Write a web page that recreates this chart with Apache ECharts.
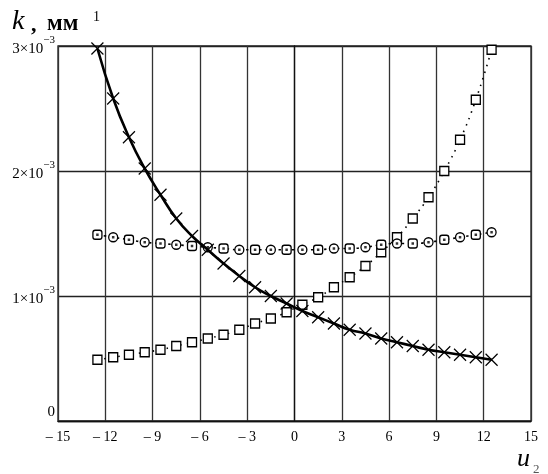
<!DOCTYPE html>
<html><head><meta charset="utf-8">
<script src="https://cdn.jsdelivr.net/npm/echarts@6/dist/echarts.min.js"></script>
<style>html,body{margin:0;padding:0;background:#fff}#c{width:548px;height:474px}</style>
</head><body><div id="c"></div>
<script>
// x values (u2)
var xVals = [-12.5,-11.5,-10.5,-9.5,-8.5,-7.5,-6.5,-5.5,-4.5,-3.5,-2.5,-1.5,-0.5,0.5,1.5,2.5,3.5,4.5,5.5,6.5,7.5,8.5,9.5,10.5,11.5,12.5];
// k values in units of 10^-3 mm^-1
var crossVals = [2.98,2.58,2.27,2.02,1.81,1.62,1.48,1.37,1.26,1.16,1.07,1.00,0.94,0.88,0.83,0.78,0.73,0.70,0.66,0.63,0.60,0.57,0.55,0.53,0.51,0.49];
var squareVals = [0.49,0.51,0.53,0.55,0.57,0.60,0.63,0.66,0.69,0.73,0.78,0.82,0.87,0.93,0.99,1.07,1.15,1.24,1.35,1.47,1.62,1.79,2.00,2.25,2.57,2.97];
var circleVals = [1.49,1.47,1.45,1.43,1.42,1.41,1.40,1.39,1.38,1.37,1.37,1.37,1.37,1.37,1.37,1.38,1.38,1.39,1.41,1.42,1.42,1.43,1.45,1.47,1.49,1.51];
var xTicks = [-15,-12,-9,-6,-3,0,3,6,9,12,15];
var yTicks = [0,1,2,3];

function pairs(v){ return xVals.map(function(x,i){ return [x, v[i]]; }); }
var serif = 'Liberation Serif';
function txt(t, x, y, size, opts){
  opts = opts || {};
  return {type:'text', x:x, y:y, style:{text:t, fill:opts.fill||'#000', textVerticalAlign:'bottom',
    font:(opts.style||'normal')+' '+(opts.weight||'normal')+' '+size+'px "'+serif+'"'}};
}
var chart = echarts.init(document.getElementById('c'));
chart.setOption({
  animation:false,
  backgroundColor:'#fff',
  grid:{left:58,right:17,top:46,bottom:53,show:true,borderColor:'#222',borderWidth:1.3},
  xAxis:{type:'value',min:xTicks[0],max:xTicks[xTicks.length-1],interval:3,
    axisLine:{show:true,lineStyle:{color:'#111',width:1.3}},axisTick:{show:false},
    splitLine:{show:true,lineStyle:{color:'#333',width:1.3}},
    axisLabel:{margin:9,color:'#000',fontFamily:serif,fontSize:14,
      formatter:function(v){ return v<0 ? '\u2013 '+Math.abs(v) : String(v); }}},
  yAxis:{type:'value',min:yTicks[0],max:yTicks[yTicks.length-1],interval:1,
    axisLine:{show:true,lineStyle:{color:'#111',width:1.3}},axisTick:{show:false},
    splitLine:{show:true,lineStyle:{color:'#222',width:1.3}},
    axisLabel:{margin:3,color:'#000',
      formatter:function(v){ return v===0 ? '{z|0}' : '{b|'+v+'\u00d710}{s|\u22123}'; },
      rich:{
        z:{fontFamily:serif,fontSize:15,color:'#000',padding:[0,0,18,0]},
        b:{fontFamily:serif,fontSize:15,color:'#000',lineHeight:22,verticalAlign:'bottom'},
        s:{fontFamily:serif,fontSize:11,color:'#000',lineHeight:22,verticalAlign:'top'}
      }}},
  graphic:[
    txt('k', 12, 36, 28, {style:'italic'}),
    txt(',', 31, 36, 22, {weight:'bold'}),
    txt('мм', 47, 36, 23, {weight:'bold'}),
    txt('1', 93, 24, 14),
    txt('u', 517, 472, 26, {style:'italic'}),
    txt('2', 533, 476, 13, {fill:'#555'})
  ],
  series:[
    {type:'line',data:pairs(crossVals),smooth:true,showAllSymbol:true,
      symbol:'path://M0,0L10,10M10,0L0,10',symbolSize:12,
      itemStyle:{color:'none',borderColor:'#000',borderWidth:1.2},
      lineStyle:{color:'#000',width:2.6},z:5},
    {type:'line',data:pairs(squareVals),smooth:true,showAllSymbol:true,
      symbol:'rect',symbolSize:9,
      itemStyle:{color:'#fff',borderColor:'#000',borderWidth:1.3},
      lineStyle:{color:'#000',width:1.6,type:[1.5,5.5]},z:3},
    {type:'line',data:pairs(circleVals).map(function(p,i){
        return {value:p, symbol:(i%2===0?'roundRect':'circle')};
      }),smooth:true,showAllSymbol:true,
      symbolSize:9,
      itemStyle:{color:'#fff',borderColor:'#000',borderWidth:1.3},
      lineStyle:{color:'#000',width:1.6,type:[2.5,4]},z:4},
    {type:'scatter',data:pairs(circleVals),symbol:'rect',symbolSize:2.5,
      itemStyle:{color:'#000'},z:6,silent:true}
  ]
});
</script></body></html>
